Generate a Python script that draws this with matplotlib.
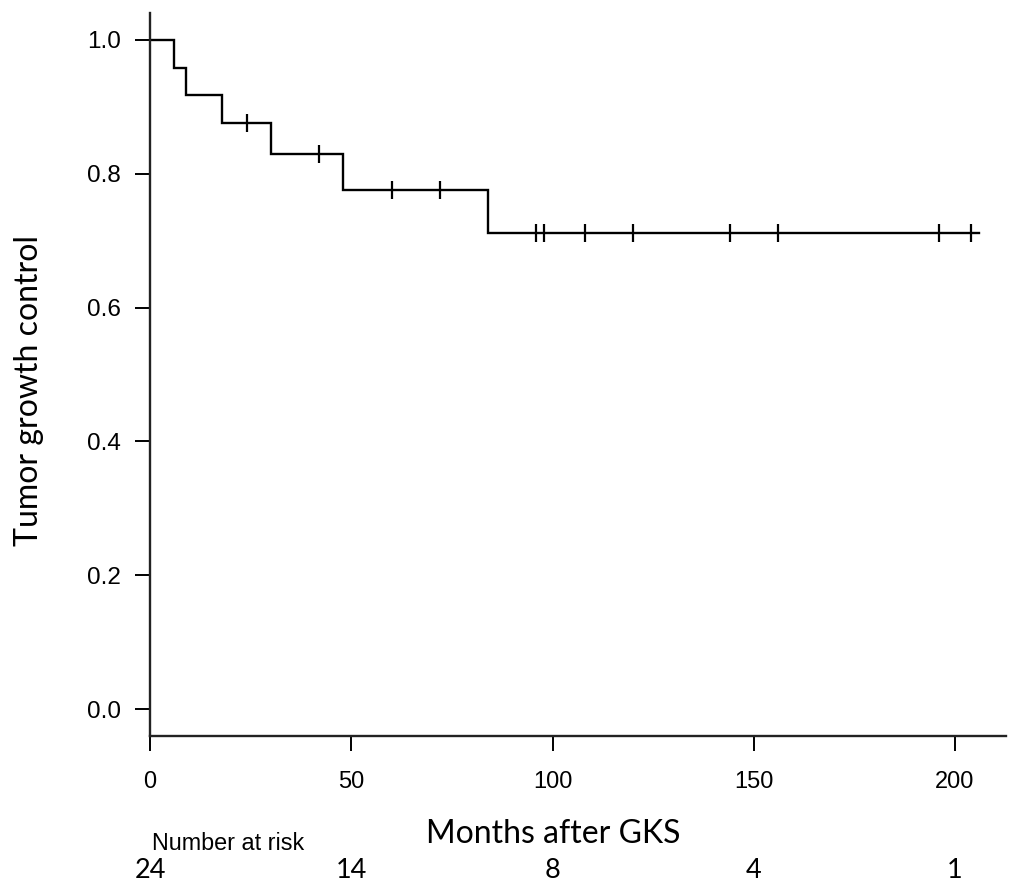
"""Kaplan-Meier curve of tumor growth control after GKS."""

import matplotlib.pyplot as plt
import numpy as np
from matplotlib import transforms

# step curve: event times (months) and survival after each step
event_months = [0, 6, 9, 18, 30, 48, 84]
survival = [1.0, 0.958, 0.917, 0.875, 0.829, 0.776, 0.712]
last_month = 206

# censored observations (tick marks)
censor_months = [24, 42, 60, 72, 96, 98, 108, 120, 144, 156, 196, 204]

x_ticks = [0, 50, 100, 150, 200]
y_ticks = [0.0, 0.2, 0.4, 0.6, 0.8, 1.0]
at_risk = [24, 14, 8, 4, 1]

W, H = 1010, 882
fig = plt.figure(figsize=(W / 100, H / 100), dpi=100)
ax = fig.add_axes([150 / W, 1 - 736 / H, (1006 - 150) / W, (736 - 13) / H])

# step function
xs = np.array(event_months + [last_month], dtype=float)
ys = np.array(survival + [survival[-1]])
ax.step(xs, ys, where='post', color='black', lw=1.7, solid_joinstyle='miter')

# censor marks sit on the curve value in effect at that time
idx = np.searchsorted(event_months, censor_months, side='right') - 1
ax.plot(censor_months, np.array(survival)[idx], ls='none', marker='|',
        ms=13.5, mew=1.6, color='black')

ax.set_xlim(0, (1006 - 150) / 4.025)
ax.set_ylim(-0.04, 1.04)
for side in ['top', 'right']:
    ax.spines[side].set_visible(False)
for side in ['left', 'bottom']:
    ax.spines[side].set_linewidth(1.7)
    ax.spines[side].set_color('#222222')

tick_font = ['Liberation Sans', 'DejaVu Sans']
ax.set_xticks(x_ticks)
ax.set_xticklabels([str(v) for v in x_ticks], family=tick_font, fontsize=17)
ax.set_yticks(y_ticks)
ax.set_yticklabels([f'{v:.1f}' for v in y_ticks], family=tick_font, fontsize=17.5)
ax.tick_params(axis='x', length=11, width=1.4, pad=14, color='black')
ax.tick_params(axis='y', length=11, width=1.4, pad=10, color='black')

label_font = ['Lato', 'DejaVu Sans']
fig.text(553 / W, 1 - 843 / H, 'Months after GKS', family=label_font,
         fontsize=23, ha='center', va='baseline')
fig.text(29 / W, 1 - 390 / H, 'Tumor growth control', family=label_font,
         fontsize=23, rotation=90, ha='center', va='center')

# number at risk table
fig.text(152 / W, 1 - 850 / H, 'Number at risk', family=tick_font,
         fontsize=16.8, ha='left', va='baseline')
trans = transforms.blended_transform_factory(ax.transData, fig.transFigure)
for month, n in zip(x_ticks, at_risk):
    ax.text(month, 1 - 878 / H, str(n), transform=trans, family=label_font,
            fontsize=19.5, ha='center', va='baseline', clip_on=False)

fig.savefig('out.png', dpi=100)
